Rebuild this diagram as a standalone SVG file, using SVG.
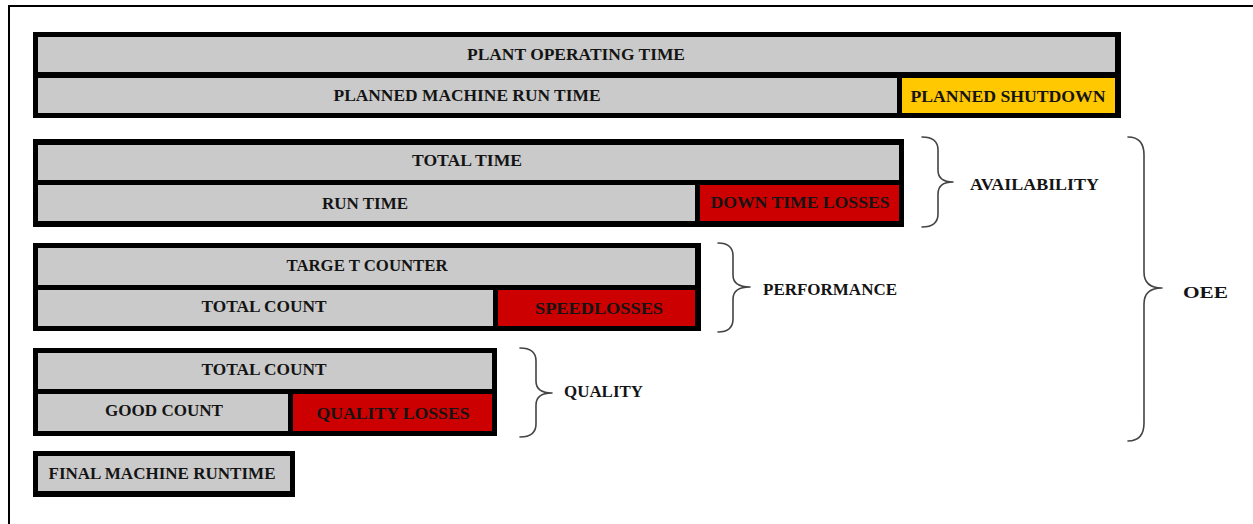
<svg xmlns="http://www.w3.org/2000/svg" width="1253" height="524" viewBox="0 0 1253 524">
<style>
.frame{fill:none;stroke:#000;stroke-width:2}
.outer{fill:#000}
.g{fill:#cacaca}
.y{fill:#ffc800}
.r{fill:#cc0000}
.t{font-family:"Liberation Serif","Times New Roman",serif;font-weight:bold;font-size:16px;fill:#141414;text-anchor:middle;lengthAdjust:spacingAndGlyphs}
.lbl{font-family:"Liberation Serif","Times New Roman",serif;font-weight:bold;font-size:16px;fill:#141414}
.brace{fill:none;stroke:#444;stroke-width:1.6;stroke-linecap:round;stroke-linejoin:round}
</style>
<rect x="0" y="0" width="1253" height="524" fill="#fff"/>
<rect class="frame" x="9" y="6" width="1270" height="540"/>

<g id="plant-operating-time">
<rect class="outer" x="33" y="32" width="1088" height="86"/>
<rect class="g" x="38" y="37" width="1077" height="35"/>
<rect class="g" x="38" y="78" width="859" height="35"/>
<rect class="y" x="902" y="78" width="213" height="35"/>
<text class="t" x="576" y="60" textLength="218" lengthAdjust="spacingAndGlyphs">PLANT OPERATING TIME</text>
<text class="t" x="467" y="101" textLength="267" lengthAdjust="spacingAndGlyphs">PLANNED MACHINE RUN TIME</text>
<text class="t" x="1008" y="102" textLength="195" lengthAdjust="spacingAndGlyphs">PLANNED SHUTDOWN</text>
</g>

<g id="total-time">
<rect class="outer" x="33" y="139" width="871" height="88"/>
<rect class="g" x="38" y="145" width="861" height="35"/>
<rect class="g" x="38" y="185" width="657" height="36"/>
<rect class="r" x="700" y="185" width="199" height="36"/>
<text class="t" x="467" y="166" textLength="110" lengthAdjust="spacingAndGlyphs">TOTAL TIME</text>
<text class="t" x="365" y="209" textLength="86" lengthAdjust="spacingAndGlyphs">RUN TIME</text>
<text class="t" x="800" y="208" textLength="179" lengthAdjust="spacingAndGlyphs">DOWN TIME LOSSES</text>
</g>

<g id="target-counter">
<rect class="outer" x="33" y="243" width="668" height="88"/>
<rect class="g" x="38" y="248" width="657" height="37"/>
<rect class="g" x="38" y="290" width="455" height="36"/>
<rect class="r" x="498" y="290" width="197" height="36"/>
<text class="t" x="367" y="271" textLength="161" lengthAdjust="spacingAndGlyphs">TARGE T COUNTER</text>
<text class="t" x="264" y="312" textLength="125" lengthAdjust="spacingAndGlyphs">TOTAL COUNT</text>
<text class="t" x="599" y="314" textLength="128" lengthAdjust="spacingAndGlyphs">SPEEDLOSSES</text>
</g>

<g id="total-count">
<rect class="outer" x="33" y="348" width="464" height="88"/>
<rect class="g" x="38" y="353" width="454" height="36"/>
<rect class="g" x="38" y="394" width="250" height="37"/>
<rect class="r" x="293" y="394" width="199" height="37"/>
<text class="t" x="264" y="375" textLength="125" lengthAdjust="spacingAndGlyphs">TOTAL COUNT</text>
<text class="t" x="164" y="416" textLength="118" lengthAdjust="spacingAndGlyphs">GOOD COUNT</text>
<text class="t" x="393" y="419" textLength="153" lengthAdjust="spacingAndGlyphs">QUALITY LOSSES</text>
</g>

<g id="final-machine-runtime">
<rect class="outer" x="33" y="451" width="262" height="46"/>
<rect class="g" x="38" y="456" width="252" height="35"/>
<text class="t" x="162" y="479" textLength="227" lengthAdjust="spacingAndGlyphs">FINAL MACHINE RUNTIME</text>
</g>

<g id="connectors">
<path class="brace" d="M922,137 Q938,137 938,150 L938,170 Q938,182 953,182 Q938,182 938,194 L938,214 Q938,227 922,227"/>
<path class="brace" d="M718,243 Q733,243 733,256 L733,275 Q733,287 750,287 Q733,287 733,299 L733,319 Q733,332 718,332"/>
<path class="brace" d="M520,348 Q536,348 536,361 L536,381 Q536,393 552,393 Q536,393 536,405 L536,424 Q536,437 520,437"/>
<path class="brace" d="M1128,137 Q1144,137 1144,155 L1144,272 Q1144,288 1162,288 Q1144,288 1144,304 L1144,423 Q1144,441 1128,441"/>
</g>

<g id="labels">
<text class="lbl" x="970" y="190" textLength="129" lengthAdjust="spacingAndGlyphs">AVAILABILITY</text>
<text class="lbl" x="763" y="295" textLength="134" lengthAdjust="spacingAndGlyphs">PERFORMANCE</text>
<text class="lbl" x="564" y="397" textLength="79" lengthAdjust="spacingAndGlyphs">QUALITY</text>
<text class="lbl" x="1183" y="298" textLength="45" lengthAdjust="spacingAndGlyphs">OEE</text>
</g>
</svg>
